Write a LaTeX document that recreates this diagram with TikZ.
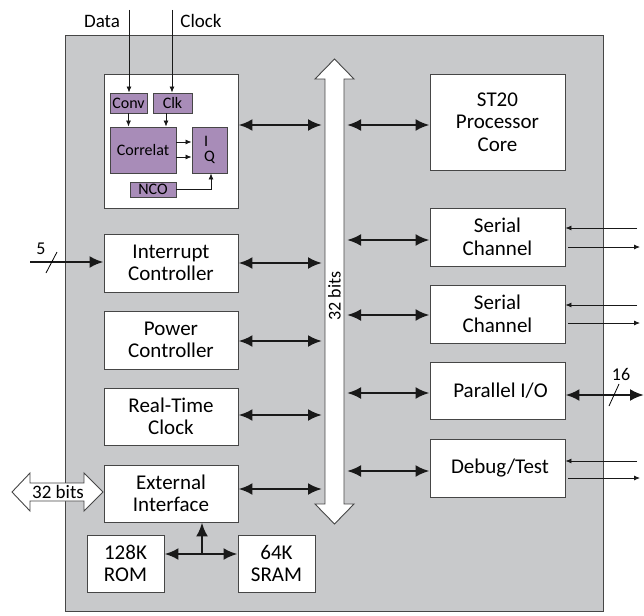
\documentclass[tikz,border=0pt]{standalone}
\usepackage{fontspec}
\setmainfont{Carlito}
\usetikzlibrary{arrows.meta}
\definecolor{chipgray}{RGB}{200,201,203}
\definecolor{gpspurple}{RGB}{168,140,184}
\definecolor{edge}{RGB}{70,70,70}
\begin{document}
\begin{tikzpicture}[x=1pt,y=-1pt,
  blk/.style={draw=edge, fill=white, line width=0.9pt, align=center, inner sep=0pt,
    font=\fontsize{21}{22.5}\selectfont},
  sub/.style={draw=edge, fill=gpspurple, line width=0.9pt, align=center, inner sep=0pt,
    font=\fontsize{16}{16}\selectfont},
  barr/.style={line width=2.6pt, draw=black!90, arrows={-Latex[length=14pt,width=12pt]}},
  bbarr/.style={line width=2.6pt, draw=black!90, arrows={Latex[length=14pt,width=12pt]-Latex[length=14pt,width=12pt]}},
  sarr/.style={line width=0.8pt, draw=black!90, arrows={-Latex[length=6pt,width=5pt]}},
  lbl/.style={font=\fontsize{19}{20}\selectfont, inner sep=0pt}
]
\useasboundingbox (0,0) rectangle (644,615);
% chip outline
\draw[edge, fill=chipgray, line width=0.9pt] (65,35) rectangle (603,611);

% GPS block
\node[blk, minimum width=134pt, minimum height=134pt] (gps) at (171,141) {};
\node[sub, minimum width=37pt, minimum height=20pt] (conv) at (128.5,103) {Conv};
\node[sub, minimum width=39pt, minimum height=20pt] (clk) at (172.5,103) {Clk};
\node[sub, minimum width=66pt, minimum height=46pt] (corr) at (143,150) {Correlat};
\node[sub, minimum width=35pt, minimum height=46pt, align=left, font=\fontsize{16}{15}\selectfont] (iq) at (209.5,150) {I\\Q};
\node[sub, minimum width=46pt, minimum height=15pt] (nco) at (153,189.5) {NCO};

\node[lbl] (data) at (102,21) {Data};
\node[lbl] (clock) at (201,21) {Clock};
\coordinate (dtop) at (129,10);
\coordinate (ctop) at (172,10);
\draw[sarr] (dtop) -- (dtop |- conv.north);
\draw[sarr] (ctop) -- (ctop |- clk.north);
\draw[sarr] (conv.south) -- (conv.south |- corr.north);
\draw[sarr] ([xshift=-6.5pt]clk.south) -- ([xshift=-6.5pt]clk.south |- corr.north);
\draw[sarr] ([yshift=8pt]corr.east) -- ([yshift=8pt]iq.west);
\draw[sarr] ([yshift=-7pt]corr.east) -- ([yshift=-7pt]iq.west);
\draw[sarr] (nco.east) -| ([xshift=1.5pt]iq.south);

% bus
\draw[edge, fill=white, line width=0.9pt]
  (325,79) -- (315,79) -- (334.5,59) -- (354,79) -- (344,79) -- (344,504) -- (354,504)
  -- (334.5,524) -- (315,504) -- (325,504) -- cycle;
\node[rotate=90, font=\fontsize{18}{19}\selectfont, inner sep=0pt] (buslbl) at (334.5,296) {32 bits};

% left column
\node[blk, minimum width=134pt, minimum height=58pt] (intr) at (171,263) {Interrupt\\Controller};
\node[blk, minimum width=134pt, minimum height=58pt] (pwr) at (171,340) {Power\\Controller};
\node[blk, minimum width=134pt, minimum height=57pt] (rtc) at (171,416.5) {Real-Time\\Clock};
\node[blk, minimum width=134pt, minimum height=57pt] (ext) at (171,493.5) {External\\Interface};
\node[blk, minimum width=77pt, minimum height=57pt] (rom) at (125.5,563.5) {128K\\ROM};
\node[blk, minimum width=77pt, minimum height=57pt] (sram) at (276.5,563.5) {64K\\SRAM};

% right column
\node[blk, minimum width=135pt, minimum height=96pt] (st20) at (497.5,122) {ST20\\Processor\\Core};
\node[blk, minimum width=135pt, minimum height=58pt] (ser1) at (497.5,237) {Serial\\Channel};
\node[blk, minimum width=135pt, minimum height=58pt] (ser2) at (497.5,314) {Serial\\Channel};
\node[blk, minimum width=135pt, minimum height=57pt] (par) at (497.5,390.5) {\hspace*{6pt}Parallel I/O};
\node[blk, minimum width=135pt, minimum height=58pt] (dbg) at (497.5,468) {\hspace*{5pt}Debug/Test};

% bus coordinates
\coordinate (bl1) at (322,125);
\coordinate (bl2) at (322,263);
\coordinate (bl3) at (322,341);
\coordinate (bl4) at (322,415);
\coordinate (bl5) at (322,489);
\coordinate (br1) at (347,125);
\coordinate (br2) at (347,240);
\coordinate (br3) at (347,315);
\coordinate (br4) at (347,393);
\coordinate (br5) at (347,471);

% left bus arrows
\draw[bbarr] (gps.east |- bl1) -- (bl1);
\draw[bbarr] (intr.east |- bl2) -- (bl2);
\draw[bbarr] (pwr.east |- bl3) -- (bl3);
\draw[bbarr] (rtc.east |- bl4) -- (bl4);
\draw[bbarr] (ext.east |- bl5) -- (bl5);
% right bus arrows
\draw[bbarr] (br1) -- (st20.west |- br1);
\draw[bbarr] (br2) -- (ser1.west |- br2);
\draw[bbarr] (br3) -- (ser2.west |- br3);
\draw[bbarr] (br4) -- (par.west |- br4);
\draw[bbarr] (br5) -- (dbg.west |- br5);

% memory
\coordinate (jn) at (202,554);
\draw[bbarr] (rom.east |- jn) -- (sram.west |- jn);
\draw[barr] (jn) -- (jn |- ext.south);

% interrupt input
\coordinate (in5) at (30,262);
\draw[barr] (in5) -- (intr.west |- in5);
\draw[line width=0.8pt] (46,273) -- (57,252);
\node[lbl, font=\fontsize{18}{19}\selectfont] (n5) at (41,249) {5};

% external 32 bits
\draw[edge, fill=white, line width=0.9pt]
  (12,492) -- (30,473) -- (30,483) -- (84,483) -- (84,473) -- (103,492) -- (84,511)
  -- (84,501) -- (30,501) -- (30,511) -- cycle;
\node[font=\fontsize{19}{20}\selectfont, inner sep=0pt] (extlbl) at (58,492) {32 bits};

% serial lines
\coordinate (s1i) at (637,228);
\coordinate (s1o) at (640,247);
\coordinate (s2i) at (637,305);
\coordinate (s2o) at (640,323);
\coordinate (dbi) at (637,461);
\coordinate (dbo) at (640,478);
\draw[sarr] (s1i) -- (ser1.east |- s1i);
\draw[sarr] ([xshift=3pt]ser1.east |- s1o) -- (s1o);
\draw[sarr] (s2i) -- (ser2.east |- s2i);
\draw[sarr] ([xshift=3pt]ser2.east |- s2o) -- (s2o);
\draw[sarr] (dbi) -- (dbg.east |- dbi);
\draw[sarr] ([xshift=3pt]dbg.east |- dbo) -- (dbo);

% parallel
\coordinate (pout) at (644,395);
\draw[bbarr] (par.east |- pout) -- (pout);
\draw[line width=0.8pt] (609,406) -- (619,384);
\node[lbl, font=\fontsize{18}{19}\selectfont] (n16) at (621,374) {16};
\end{tikzpicture}
\end{document}
